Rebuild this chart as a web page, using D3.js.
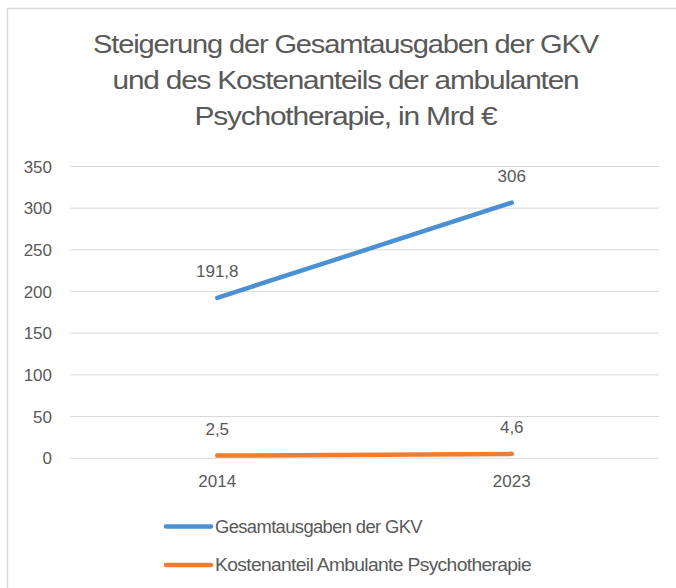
<!DOCTYPE html>
<html><head><meta charset="utf-8">
<script src="https://cdn.jsdelivr.net/npm/d3@7"></script>
<style>
html,body{margin:0;padding:0;background:#fff;}
svg text{font-family:"Liberation Sans",Arial,sans-serif;fill:#595959;}
</style></head>
<body><svg id="c" width="676" height="588"></svg>
<script>
const categories = ["2014", "2023"];
const seriesNames = ["Gesamtausgaben der GKV", "Kostenanteil Ambulante Psychotherapie"];
const gkvValues = [191.8, 306];
const psychoValues = [2.5, 4.6];
const valueLabels = [["191,8", "306"], ["2,5", "4,6"]];
const yTicks = [0, 50, 100, 150, 200, 250, 300, 350];
const titleLines = ["Steigerung der Gesamtausgaben der GKV", "und des Kostenanteils der ambulanten", "Psychotherapie, in Mrd €"];
const colors = ["#4A90D2", "#ED7D31"];

const svg = d3.select("#c");
// chart frame
svg.append("path").attr("d", "M7.5,600 V8.5 H700").attr("fill", "none").attr("stroke", "#D9D9D9").attr("stroke-width", 1.5);

// title
const titleW = [505, 466, 302];
svg.append("g").selectAll("text").data(titleLines).join("text")
  .attr("x", 345.5).attr("y", (d, i) => 53 + i * 36)
  .attr("text-anchor", "middle").attr("font-size", 25).attr("letter-spacing", -1)
  .attr("textLength", (d, i) => titleW[i]).attr("lengthAdjust", "spacingAndGlyphs")
  .text(d => d);

const x = d3.scaleBand().domain(categories).range([70, 659]);
const y = d3.scaleLinear().domain([0, 350]).range([457.7, 166]);

// gridlines
const yAxis = d3.axisLeft(y).tickValues(yTicks).tickSize(-589).tickPadding(18).tickFormat(d3.format("d"));
const gy = svg.append("g").attr("transform", "translate(70,0)").call(yAxis);
gy.select(".domain").remove();
gy.selectAll(".tick line").attr("stroke", "#D9D9D9").attr("stroke-width", 1);
gy.selectAll(".tick text").attr("font-size", 17).attr("fill", "#595959").attr("font-family", "Liberation Sans, Arial, sans-serif").attr("dy", "0.36em");

// x axis labels
const xAxis = d3.axisBottom(x).tickSize(0).tickPadding(17);
const gx = svg.append("g").attr("transform", "translate(0,457.7)").call(xAxis);
gx.select(".domain").remove();
gx.selectAll(".tick text").attr("font-size", 17).attr("fill", "#595959").attr("font-family", "Liberation Sans, Arial, sans-serif");

const cx = d => x(d) + x.bandwidth() / 2;
const series = [gkvValues, psychoValues];
const line = d3.line().x((d, i) => cx(categories[i])).y(d => y(d));
series.forEach((vals, s) => {
  svg.append("path").datum(vals).attr("d", line)
    .attr("fill", "none").attr("stroke", colors[s]).attr("stroke-width", 4.5).attr("stroke-linecap", "round");
  svg.append("g").selectAll("text").data(vals).join("text")
    .attr("x", (d, i) => cx(categories[i]))
    .attr("y", d => y(d) - 21)
    .attr("text-anchor", "middle").attr("font-size", 17)
    .text((d, i) => valueLabels[s][i]);
});

// legend
const legendW = [207, 316];
const lg = svg.append("g");
seriesNames.forEach((n, i) => {
  const ly = 526.5 + i * 38.5;
  lg.append("line").attr("x1", 166).attr("x2", 211).attr("y1", ly).attr("y2", ly)
    .attr("stroke", colors[i]).attr("stroke-width", 4.5).attr("stroke-linecap", "round");
  lg.append("text").attr("x", 215).attr("y", ly + 6).attr("font-size", 17.5).attr("letter-spacing", -0.6)
    .attr("textLength", legendW[i]).attr("lengthAdjust", "spacingAndGlyphs").text(n);
});
</script></body></html>
